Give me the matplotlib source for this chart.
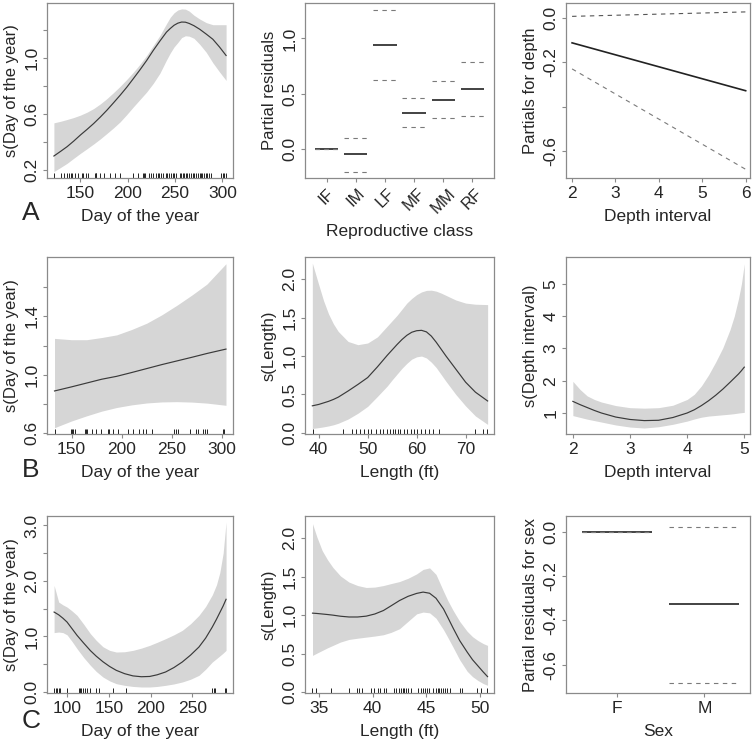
import numpy as np
import matplotlib
matplotlib.use('Agg')
import matplotlib.pyplot as plt

plt.rcParams['font.family'] = ['Liberation Sans', 'DejaVu Sans']

# ---- data ----
# A: day of year smooth
a1_day = [122, 129, 136, 143, 150, 157, 164, 171, 178, 185, 192, 199, 206, 213, 220, 227, 234, 241,
          245, 249, 253, 257, 261, 265, 270, 276, 283, 290, 297, 304]
a1_fit = [0.299, 0.332, 0.366, 0.406, 0.449, 0.489, 0.531, 0.577, 0.626, 0.679, 0.733, 0.79, 0.852,
          0.915, 0.981, 1.053, 1.12, 1.184, 1.21, 1.233, 1.248, 1.256, 1.255, 1.246, 1.23, 1.205,
          1.17, 1.133, 1.078, 1.017]
a1_upper = [0.536, 0.547, 0.56, 0.574, 0.591, 0.612, 0.638, 0.671, 0.709, 0.752, 0.797, 0.846, 0.898,
            0.955, 1.017, 1.088, 1.16, 1.244, 1.29, 1.322, 1.342, 1.35, 1.348, 1.334, 1.305, 1.278,
            1.252, 1.237, 1.237, 1.237]
a1_lower = [0.188, 0.217, 0.247, 0.283, 0.318, 0.351, 0.385, 0.421, 0.46, 0.5, 0.543, 0.595, 0.65,
            0.703, 0.756, 0.818, 0.89, 0.985, 1.035, 1.078, 1.11, 1.145, 1.158, 1.155, 1.14, 1.098,
            1.04, 0.965, 0.90, 0.839]
a1_rug = [122, 129, 133, 136, 138, 140, 141, 144, 147, 152, 153, 156, 158, 165, 166, 167, 171, 175,
          181, 187, 192, 206, 211, 216, 217, 218, 223, 225, 227, 230, 232, 233, 235, 237, 241, 242,
          244, 246, 248, 249, 251, 255, 256, 258, 260, 262, 263, 265, 267, 269, 270, 272, 274, 276,
          277, 279, 281, 283, 284, 286, 288, 299, 301, 302, 304]

# A: reproductive class (factor)
repro_class = ['IF', 'IM', 'LF', 'MF', 'MM', 'RF']
repro_fit = [0.0, -0.048, 0.94, 0.328, 0.446, 0.542]
repro_upper = [0.0, 0.096, 1.256, 0.458, 0.617, 0.783]
repro_lower = [0.0, -0.205, 0.623, 0.202, 0.280, 0.295]

# A: depth (linear)
a3_depth = [2, 6]
a3_fit = [-0.113, -0.328]
a3_upper = [0.006, 0.026]
a3_lower = [-0.23, -0.681]

# B: day of year smooth
b1_day = [133, 150, 165, 180, 195, 210, 225, 240, 255, 270, 285, 304]
b1_fit = [0.89, 0.918, 0.944, 0.97, 0.99, 1.016, 1.043, 1.07, 1.095, 1.12, 1.146, 1.176]
b1_upper = [1.249, 1.24, 1.24, 1.255, 1.273, 1.31, 1.353, 1.41, 1.475, 1.545, 1.62, 1.759]
b1_lower = [0.639, 0.685, 0.72, 0.752, 0.777, 0.795, 0.808, 0.815, 0.817, 0.814, 0.807, 0.792]
b1_rug = [133, 149, 150, 151.6, 153.3, 163.2, 164.2, 165.5, 170.8, 174.7, 179.7, 186.3, 187.3,
          191.2, 196.2, 206, 211, 217, 221.5, 224.2, 229.8, 252.2, 253.9, 256.2, 268, 274.3,
          276.3, 280.9, 283.5, 285.2, 300.7, 302.3]

# B: length smooth
b2_len = [38.7, 40, 41, 42, 43, 44, 46, 48, 50, 52, 54, 55, 56, 57, 58, 59, 60, 61, 62, 63, 64, 65,
          66, 68, 70, 72, 74.5]
b2_fit = [0.352, 0.37, 0.39, 0.41, 0.435, 0.465, 0.545, 0.63, 0.72, 0.86, 1.01, 1.08, 1.15, 1.215,
          1.27, 1.31, 1.33, 1.335, 1.315, 1.26, 1.18, 1.09, 1.0, 0.83, 0.66, 0.53, 0.415]
b2_upper = [2.21, 1.93, 1.72, 1.55, 1.42, 1.32, 1.19, 1.148, 1.17, 1.25, 1.39, 1.46, 1.53, 1.61,
            1.69, 1.75, 1.8, 1.835, 1.855, 1.858, 1.845, 1.82, 1.79, 1.73, 1.69, 1.675, 1.67]
b2_lower = [0.057, 0.068, 0.078, 0.09, 0.105, 0.125, 0.18, 0.255, 0.345, 0.475, 0.61, 0.69, 0.765,
            0.84, 0.905, 0.96, 0.99, 1.0, 0.975, 0.92, 0.85, 0.76, 0.67, 0.5, 0.35, 0.22, 0.11]
b2_rug = [38.75, 44.9, 46.9, 47.6, 48.5, 49.3, 50, 50.7, 51.6, 52.5, 53.2, 53.9, 54.6, 55.1, 55.6,
          56.1, 56.7, 57.4, 58.1, 58.75, 59.4, 60.1, 60.8, 61.7, 62.5, 63.4, 64.6, 71.9, 73.6, 74.4]

# B: depth smooth
b3_depth = [2.0, 2.125, 2.25, 2.375, 2.5, 2.75, 3.0, 3.25, 3.5, 3.75, 4.0, 4.125, 4.25, 4.375, 4.5,
            4.625, 4.75, 4.825, 4.9, 4.95, 5.0]
b3_fit = [1.36, 1.26, 1.17, 1.08, 1.0, 0.875, 0.80, 0.765, 0.775, 0.86, 1.0, 1.1, 1.23, 1.38, 1.55,
          1.74, 1.95, 2.08, 2.21, 2.31, 2.42]
b3_upper = [1.98, 1.73, 1.53, 1.42, 1.34, 1.23, 1.165, 1.15, 1.165, 1.24, 1.42, 1.58, 1.84, 2.18,
            2.58, 3.02, 3.58, 4.0, 4.55, 5.0, 5.62]
b3_lower = [0.92, 0.865, 0.81, 0.765, 0.72, 0.63, 0.565, 0.535, 0.575, 0.65, 0.75, 0.815, 0.87,
            0.905, 0.925, 0.945, 0.965, 0.98, 1.0, 1.01, 1.02]

# C: day of year smooth
c1_day = [84.5, 90, 95, 100, 106, 112, 120, 128, 135, 143, 151, 159, 169, 179, 189, 199, 208, 218,
          228, 238, 248, 258, 266, 274, 279, 283, 287, 290.5]
c1_fit = [1.44, 1.39, 1.33, 1.26, 1.14, 1.02, 0.88, 0.745, 0.645, 0.545, 0.46, 0.39, 0.33, 0.29,
          0.275, 0.28, 0.31, 0.36, 0.44, 0.54, 0.665, 0.81, 0.97, 1.17, 1.31, 1.43, 1.55, 1.67]
c1_upper = [1.92, 1.62, 1.57, 1.53, 1.46, 1.38, 1.22, 1.05, 0.93, 0.815, 0.75, 0.72, 0.725, 0.75,
            0.79, 0.84, 0.895, 0.96, 1.03, 1.11, 1.23, 1.38, 1.54, 1.75, 1.93, 2.15, 2.5, 3.06]
c1_lower = [1.07, 1.08, 1.07, 1.03, 0.91, 0.78, 0.62, 0.48, 0.37, 0.27, 0.2, 0.15, 0.12, 0.10,
            0.09, 0.09, 0.1, 0.12, 0.145, 0.18, 0.23, 0.30, 0.41, 0.54, 0.60, 0.65, 0.70, 0.75]
c1_rug = [84.2, 86.2, 88.2, 90.1, 91.3, 100, 113.8, 115, 116.6, 118.9, 121.7, 124.5, 127.6, 134.7,
          138.7, 154.5, 170.3, 273.7, 275.6, 277.6, 289.5, 290.7]

# C: length smooth
c2_len = [34.4, 34.8, 35.3, 35.8, 36.3, 37, 37.8, 38.6, 39.4, 40.2, 41, 41.7, 42.5, 43.3, 44.1, 44.7,
          45.3, 45.9, 46.6, 47.0, 47.5, 48.1, 48.8, 49.3, 49.8, 50.3, 50.7]
c2_fit = [1.026, 1.022, 1.015, 1.008, 1.0, 0.986, 0.976, 0.976, 0.987, 1.015, 1.06, 1.12, 1.19,
          1.245, 1.283, 1.30, 1.285, 1.22, 1.08, 0.97, 0.83, 0.67, 0.52, 0.42, 0.34, 0.26, 0.20]
c2_upper = [2.19, 2.02, 1.84, 1.72, 1.62, 1.51, 1.43, 1.385, 1.36, 1.365, 1.385, 1.41, 1.437, 1.48,
            1.537, 1.595, 1.615, 1.53, 1.31, 1.19, 1.06, 0.92, 0.79, 0.72, 0.67, 0.63, 0.606]
c2_lower = [0.476, 0.505, 0.54, 0.575, 0.606, 0.65, 0.684, 0.70, 0.714, 0.728, 0.745, 0.775, 0.823,
            0.92, 1.017, 1.04, 1.03, 0.96, 0.81, 0.71, 0.58, 0.42, 0.27, 0.2, 0.15, 0.11, 0.087]
c2_rug = [34.37, 34.69, 36.1, 37.76, 38.51, 38.77, 39.02, 39.83, 40.08, 40.49, 40.71, 41.06, 41.21,
          41.97, 42.22, 42.47, 42.62, 42.78, 42.91, 43.06, 43.31, 43.53, 44.26, 44.48, 44.73, 44.88,
          45.04, 45.29, 45.61, 45.86, 46.05, 46.2, 46.36, 46.52, 46.7, 46.93, 47.17, 48.12, 48.34,
          49.68, 50.12, 50.62]

# C: sex (factor)
sex_class = ['F', 'M']
sex_fit = [0.0, -0.327]
sex_upper = [0.0, 0.023]
sex_lower = [0.0, -0.681]

# ---- figure ----
W, H = 755, 743
fig = plt.figure(figsize=(W / 100, H / 100), dpi=100)

GREY = '#8a8a8a'
TXT = '#262626'
BAND = '#d6d6d6'


def make_ax(l, t, r, b):
    ax = fig.add_axes([l / W, 1 - b / H, (r - l) / W, (b - t) / H])
    for s in ax.spines.values():
        s.set_color(GREY)
        s.set_linewidth(0.9)
    ax.tick_params(colors=GREY, labelcolor=TXT, length=3, width=0.8, labelsize=12.5, pad=2.5)
    return ax


def finish(ax, xlabel, ylabel, yticks, ylabels):
    ax.set_yticks(yticks)
    ax.set_yticklabels(ylabels, rotation=90, va='center')
    ax.set_xlabel(xlabel, fontsize=12.5, color=TXT, labelpad=6)
    ax.set_ylabel(ylabel, fontsize=12, color=TXT, labelpad=4)


def smooth(ax, x, fit, lo, hi, rug=None):
    ax.fill_between(x, lo, hi, color=BAND, lw=0)
    ax.plot(x, fit, color='#3a3a3a', lw=0.85)
    if rug is not None:
        ax.vlines(rug, 0, 0.03, transform=ax.get_xaxis_transform(), color='#222222', lw=0.7)


def factor(ax, fit, lo, hi):
    pos = np.arange(1, len(fit) + 1)
    ax.hlines(fit, pos - 0.4, pos + 0.4, color='#222222', lw=1.2)
    ax.hlines(hi, pos - 0.4, pos + 0.4, color='#7a7a7a', lw=0.8, linestyles=(0, (4, 4)))
    ax.hlines(lo, pos - 0.4, pos + 0.4, color='#7a7a7a', lw=0.8, linestyles=(0, (4, 4)))
    return pos


cols = [(47, 233), (305, 494), (566, 750)]
rows = [(3, 178), (257, 434), (516, 693)]

# A1
ax = make_ax(cols[0][0], rows[0][0], cols[0][1], rows[0][1])
smooth(ax, a1_day, a1_fit, a1_lower, a1_upper, a1_rug)
ax.set_xlim(114.7, 311.3)
ax.set_ylim(0.142, 1.392)
ax.set_xticks([150, 200, 250, 300])
finish(ax, 'Day of the year', 's(Day of the year)',
       [0.2, 0.4, 0.6, 0.8, 1.0, 1.2], ['0.2', '', '0.6', '', '1.0', ''])

# A2
ax = make_ax(cols[1][0], rows[0][0], cols[1][1], rows[0][1])
pos = factor(ax, repro_fit, repro_lower, repro_upper)
ax.set_xlim(0.26, 6.74)
ax.set_ylim(-0.263, 1.32)
ax.set_xticks(pos)
ax.set_xticklabels(repro_class, rotation=45, ha='center', fontsize=12)
finish(ax, 'Reproductive class', 'Partial residuals', [0.0, 0.5, 1.0], ['0.0', '0.5', '1.0'])

# A3
ax = make_ax(cols[2][0], rows[0][0], cols[2][1], rows[0][1])
ax.plot(a3_depth, a3_fit, color='#222222', lw=1.2)
ax.plot(a3_depth, a3_upper, color='#555555', lw=0.8, ls=(0, (4, 4)))
ax.plot(a3_depth, a3_lower, color='#7a7a7a', lw=0.8, ls=(0, (4, 4)))
ax.set_xlim(1.86, 6.1)
ax.set_ylim(-0.72, 0.066)
ax.set_xticks([2, 3, 4, 5, 6])
finish(ax, 'Depth interval', 'Partials for depth',
       [-0.6, -0.4, -0.2, 0.0], ['-0.6', '', '-0.2', '0.0'])

# B1
ax = make_ax(cols[0][0], rows[1][0], cols[0][1], rows[1][1])
smooth(ax, b1_day, b1_fit, b1_lower, b1_upper, b1_rug)
ax.set_xlim(125.5, 311)
ax.set_ylim(0.596, 1.805)
ax.set_xticks([150, 200, 250, 300])
finish(ax, 'Day of the year', 's(Day of the year)',
       [0.6, 0.8, 1.0, 1.2, 1.4, 1.6], ['0.6', '', '1.0', '', '1.4', ''])

# B2
ax = make_ax(cols[1][0], rows[1][0], cols[1][1], rows[1][1])
smooth(ax, b2_len, b2_fit, b2_lower, b2_upper, b2_rug)
ax.set_xlim(37.2, 75.8)
ax.set_ylim(-0.015, 2.29)
ax.set_xticks([40, 50, 60, 70])
finish(ax, 'Length (ft)', 's(Length)',
       [0.0, 0.5, 1.0, 1.5, 2.0], ['0.0', '0.5', '1.0', '1.5', '2.0'])

# B3
ax = make_ax(cols[2][0], rows[1][0], cols[2][1], rows[1][1])
smooth(ax, b3_depth, b3_fit, b3_lower, b3_upper)
ax.set_xlim(1.88, 5.1)
ax.set_ylim(0.35, 5.83)
ax.set_xticks([2, 3, 4, 5])
finish(ax, 'Depth interval', 's(Depth interval)', [1, 2, 3, 4, 5], ['1', '2', '3', '4', '5'])

# C1
ax = make_ax(cols[0][0], rows[2][0], cols[0][1], rows[2][1])
smooth(ax, c1_day, c1_fit, c1_lower, c1_upper, c1_rug)
ax.set_xlim(76, 298.8)
ax.set_ylim(-0.018, 3.17)
ax.set_xticks([100, 150, 200, 250])
finish(ax, 'Day of the year', 's(Day of the year)',
       [0.0, 0.5, 1.0, 1.5, 2.0, 2.5, 3.0], ['0.0', '', '1.0', '', '2.0', '', '3.0'])

# C2
ax = make_ax(cols[1][0], rows[2][0], cols[1][1], rows[2][1])
smooth(ax, c2_len, c2_fit, c2_lower, c2_upper, c2_rug)
ax.set_xlim(33.7, 51.3)
ax.set_ylim(-0.013, 2.29)
ax.set_xticks([35, 40, 45, 50])
finish(ax, 'Length (ft)', 's(Length)',
       [0.0, 0.5, 1.0, 1.5, 2.0], ['0.0', '0.5', '1.0', '1.5', '2.0'])

# C3
ax = make_ax(cols[2][0], rows[2][0], cols[2][1], rows[2][1])
pos = factor(ax, sex_fit, sex_lower, sex_upper)
ax.set_xlim(0.42, 2.52)
ax.set_ylim(-0.728, 0.072)
ax.set_xticks(pos)
ax.set_xticklabels(sex_class)
finish(ax, 'Sex', 'Partial residuals for sex',
       [-0.6, -0.4, -0.2, 0.0], ['-0.6', '-0.4', '-0.2', '0.0'])

# panel letters
for letter, base in zip(['A', 'B', 'C'], [220, 477, 728]):
    fig.text(22 / W, 1 - base / H, letter, fontsize=19, color=TXT, ha='left', va='baseline')

fig.savefig('out.png', dpi=100)
